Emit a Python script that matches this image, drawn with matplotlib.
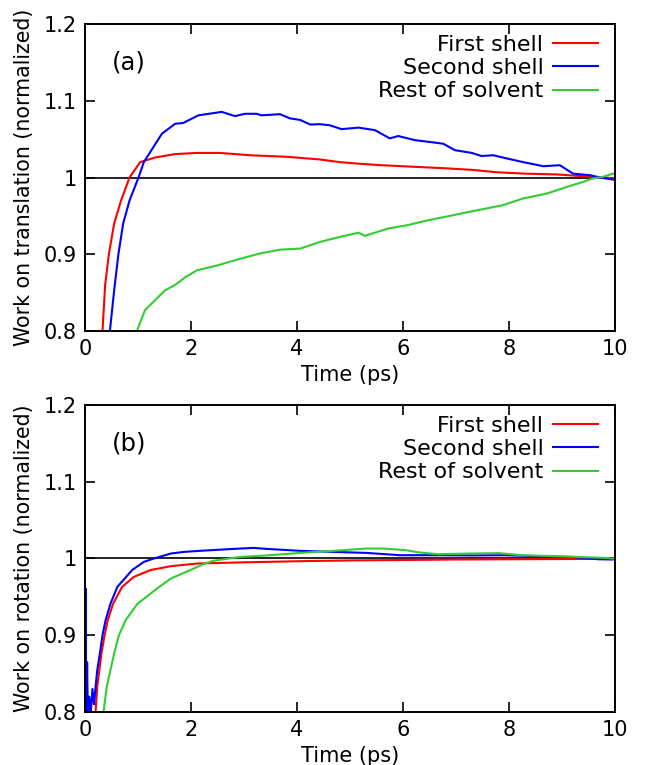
import matplotlib
matplotlib.use("Agg")
import matplotlib.pyplot as plt

# ---------------- data ----------------
# Panel (a): work on translation
t_a_first = [0.25, 0.33, 0.38, 0.45, 0.55, 0.68, 0.84, 1.04, 1.32, 1.70, 2.10, 2.55, 3.11, 3.81,
             4.43, 4.81, 5.16, 5.60, 6.20, 6.80, 7.30, 7.74, 8.30, 8.90, 9.53, 10.0]
w_a_first = [0.72, 0.80, 0.86, 0.90, 0.94, 0.97, 1.00, 1.02, 1.026, 1.0305, 1.032, 1.032, 1.029, 1.027,
             1.0235, 1.020, 1.018, 1.016, 1.014, 1.012, 1.010, 1.007, 1.005, 1.004, 1.001, 0.999]

t_a_second = [0.40, 0.47, 0.55, 0.63, 0.72, 0.84, 1.01, 1.11, 1.45, 1.70, 1.85, 2.14, 2.58, 2.83,
              3.02, 3.24, 3.33, 3.68, 3.87, 4.06, 4.25, 4.43, 4.62, 4.84, 5.16, 5.47, 5.75, 5.91,
              6.23, 6.54, 6.76, 6.98, 7.30, 7.48, 7.70, 7.96, 8.27, 8.65, 8.96, 9.21, 9.53, 9.72,
              9.94, 10.0]
w_a_second = [0.72, 0.80, 0.853, 0.90, 0.94, 0.97, 1.00, 1.02, 1.057, 1.070, 1.071, 1.081, 1.0855, 1.080,
              1.083, 1.083, 1.081, 1.0825, 1.077, 1.075, 1.069, 1.0695, 1.068, 1.063, 1.065, 1.0617,
              1.051, 1.054, 1.0486, 1.046, 1.044, 1.0356, 1.032, 1.028, 1.029, 1.0248, 1.020, 1.0147,
              1.016, 1.005, 1.003, 1.000, 0.9975, 0.997]

t_a_rest = [0.90, 0.98, 1.13, 1.32, 1.51, 1.70, 1.89, 2.11, 2.51, 2.92, 3.30, 3.68, 4.06, 4.43,
            4.81, 5.16, 5.28, 5.72, 6.09, 6.47, 6.85, 7.23, 7.67, 7.89, 8.26, 8.71, 9.09, 9.40,
            9.58, 9.77, 9.96, 10.0]
w_a_rest = [0.78, 0.80, 0.827, 0.840, 0.853, 0.860, 0.870, 0.879, 0.8857, 0.894, 0.901, 0.906, 0.9074,
            0.916, 0.9226, 0.928, 0.924, 0.9335, 0.938, 0.9443, 0.9495, 0.955, 0.961, 0.964, 0.9726,
            0.979, 0.9877, 0.9943, 0.9987, 1.0008, 1.005, 1.004]

# Panel (b): work on rotation
t_b_first = [0.15, 0.20, 0.23, 0.31, 0.37, 0.43, 0.53, 0.70, 0.92, 1.24, 1.62, 2.12, 3.0, 4.06,
             5.0, 5.94, 7.0, 8.0, 9.0, 10.0]
w_b_first = [0.70, 0.80, 0.833, 0.876, 0.90, 0.92, 0.941, 0.963, 0.976, 0.985, 0.990, 0.9935, 0.995,
             0.9965, 0.9975, 0.998, 0.9987, 0.999, 0.9993, 0.9995]

t_b_second = [0.0, 0.01, 0.025, 0.04, 0.055, 0.08, 0.11, 0.14, 0.17, 0.20, 0.23, 0.28, 0.33, 0.39,
              0.48, 0.61, 0.89, 1.11, 1.30, 1.62, 1.87, 2.17, 2.80, 3.18, 3.43, 4.06, 4.69, 5.31,
              5.94, 6.67, 7.30, 7.92, 8.55, 9.18, 9.69, 9.94, 10.0]
w_b_second = [0.78, 0.961, 0.79, 0.865, 0.79, 0.82, 0.80, 0.83, 0.81, 0.833, 0.854, 0.876, 0.90, 0.92,
              0.941, 0.963, 0.985, 0.9956, 1.0, 1.0065, 1.0086, 1.010, 1.0125, 1.0138, 1.0125, 1.010,
              1.0086, 1.0073, 1.0043, 1.0043, 1.004, 1.0043, 1.003, 1.002, 0.999, 0.9987, 0.999]

t_b_rest = [0.30, 0.35, 0.41, 0.55, 0.64, 0.77, 0.99, 1.40, 1.62, 1.99, 2.21, 2.42, 2.92, 3.43,
            4.06, 4.69, 5.31, 5.63, 6.04, 6.29, 6.67, 7.30, 7.80, 8.24, 8.87, 9.31, 9.81, 9.94, 10.0]
w_b_rest = [0.75, 0.80, 0.833, 0.876, 0.90, 0.92, 0.941, 0.963, 0.974, 0.985, 0.992, 0.997, 1.002,
            1.004, 1.0073, 1.010, 1.013, 1.013, 1.011, 1.008, 1.0056, 1.0065, 1.007, 1.0043, 1.003,
            1.002, 1.0008, 1.0, 1.0]

series_labels = ["First shell", "Second shell", "Rest of solvent"]
x_ticks = [0, 2, 4, 6, 8, 10]
y_ticks = [0.8, 0.9, 1.0, 1.1, 1.2]
y_tick_labels = ["0.8", "0.9", "1", "1.1", "1.2"]
panel_tags = ["(a)", "(b)"]
y_labels = ["Work on translation (normalized)", "Work on rotation (normalized)"]

# ---------------- style ----------------
plt.rcParams["font.family"] = ["DejaVu Sans"]
colors = ["#ff0000", "#0000ff", "#33cc33"]
FS_TICK = 15
FS_LAB = 14.8
FS_LEG = 16

fig = plt.figure(figsize=(6.54, 7.65), dpi=100)
left = 85 / 654
width = 530 / 654
ax_a = fig.add_axes([left, 1 - 331 / 765, width, (331 - 24) / 765])
ax_b = fig.add_axes([left, 1 - 712 / 765, width, (712 - 405) / 765])

panels = [
    (ax_a, [(t_a_first, w_a_first), (t_a_second, w_a_second), (t_a_rest, w_a_rest)]),
    (ax_b, [(t_b_first, w_b_first), (t_b_second, w_b_second), (t_b_rest, w_b_rest)]),
]

for i, (ax, data) in enumerate(panels):
    ax.axhline(1.0, color="black", lw=1.2, zorder=1)
    for (t, w), c, lab in zip(data, colors, series_labels):
        ax.plot(t, w, color=c, lw=1.5, label=lab, zorder=2)
    ax.set_xlim(0, 10)
    ax.set_ylim(0.8, 1.2)
    ax.set_xticks(x_ticks)
    ax.set_xticklabels([str(v) for v in x_ticks])
    ax.set_yticks(y_ticks)
    ax.set_yticklabels(y_tick_labels)
    ax.tick_params(direction="in", length=7, width=1.2, top=True, right=True,
                   labelsize=FS_TICK, pad=6)
    for s in ax.spines.values():
        s.set_linewidth(1.4)
    ax.set_xlabel("Time (ps)", fontsize=FS_TICK, labelpad=4)
    ax.set_ylabel(y_labels[i], fontsize=FS_LAB, labelpad=7)
    ax.text(0.05, 0.875, panel_tags[i], transform=ax.transAxes, fontsize=17.5,
            va="center", ha="left")
    leg = ax.legend(loc="upper right", frameon=False, markerfirst=False, fontsize=FS_LEG,
                    handlelength=2.0, handletextpad=0.45, labelspacing=0.15,
                    borderaxespad=0.25, bbox_to_anchor=(0.995, 1.012))

fig.savefig("out.png", dpi=100)
